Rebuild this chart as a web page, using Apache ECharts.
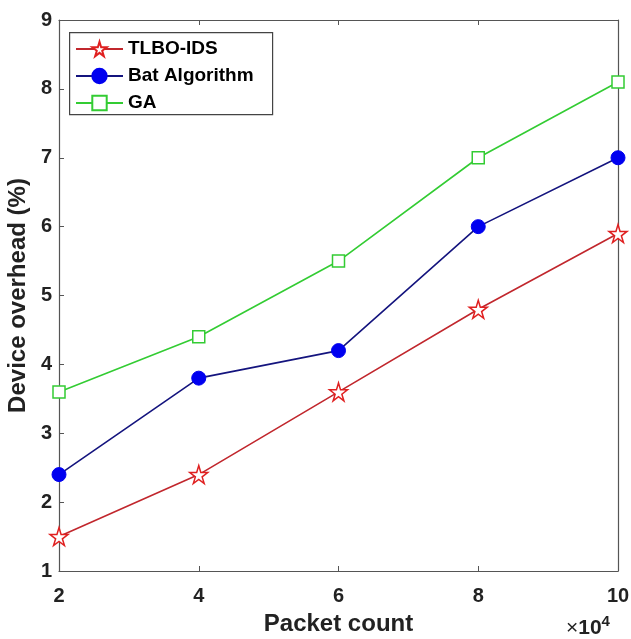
<!DOCTYPE html>
<html><head><meta charset="utf-8">
<script src="https://cdn.jsdelivr.net/npm/echarts@6/dist/echarts.min.js"></script>
<style>html,body{margin:0;padding:0;background:#fff}#c{width:631px;height:639px}</style>
</head><body><div id="c"></div>
<script>
const packets = [2, 4, 6, 8, 10];
const tlbo = [1.5, 2.4, 3.6, 4.8, 5.9];
const bat = [2.4, 3.8, 4.2, 6.0, 7.0];
const ga = [3.6, 4.4, 5.5, 7.0, 8.1];
const seriesNames = ['TLBO-IDS', 'Bat Algorithm', 'GA'];

const F = '"Liberation Sans", Arial, sans-serif';
const star = 'path://M50,0 L61,35 L98,35 L68,57 L79,91 L50,70 L21,91 L32,57 L2,35 L39,35 Z';
const pair = a => packets.map((x, i) => [x, a[i]]);

const chart = echarts.init(document.getElementById('c'));
chart.setOption({
  animation: false,
  backgroundColor: '#fff',
  grid: {left: 59, right: 13, top: 20, bottom: 68, containLabel: false, outerBoundsMode: 'none'},
  legend: {
    left: 69, top: 32, orient: 'vertical', itemGap: 7, itemWidth: 47, itemHeight: 18,
    padding: [7, 0, 0, 6], borderWidth: 0,
    textStyle: {fontFamily: F, fontWeight: 'bold', fontSize: 19, lineHeight: 20, color: '#000'},
    data: seriesNames
  },
  xAxis: [{
    type: 'value', min: 2, max: 10, interval: 2,
    axisLine: {lineStyle: {color: '#555', width: 1.2}},
    axisTick: {inside: true, length: 5, lineStyle: {color: '#555'}},
    axisLabel: {fontFamily: F, fontWeight: 'bold', fontSize: 20, color: '#222', margin: 15},
    splitLine: {show: false},
    name: 'Packet count', nameLocation: 'middle', nameGap: 41,
    nameTextStyle: {fontFamily: F, fontWeight: 'bold', fontSize: 24, color: '#222'}
  }, {
    type: 'value', position: 'top', min: 2, max: 10, interval: 2,
    axisLine: {show: true, lineStyle: {color: '#555', width: 1.2}},
    axisTick: {inside: true, length: 5, lineStyle: {color: '#555'}},
    axisLabel: {show: false}, splitLine: {show: false}
  }],
  yAxis: [{
    type: 'value', min: 1, max: 9, interval: 1,
    axisLine: {show: true, lineStyle: {color: '#555', width: 1.2}},
    axisTick: {inside: true, length: 5, lineStyle: {color: '#555'}},
    axisLabel: {fontFamily: F, fontWeight: 'bold', fontSize: 20, color: '#222', margin: 7},
    splitLine: {show: false},
    name: 'Device overhead (%)', nameLocation: 'middle', nameGap: 23,
    nameTextStyle: {fontFamily: F, fontWeight: 'bold', fontSize: 24, color: '#222'}
  }, {
    type: 'value', position: 'right', min: 1, max: 9, interval: 1,
    axisLine: {show: true, lineStyle: {color: '#555', width: 1.2}},
    axisTick: {show: false}, axisLabel: {show: false}, splitLine: {show: false}
  }],
  series: [{
    name: seriesNames[0], type: 'line', data: pair(tlbo),
    symbol: star, symbolSize: 18, showAllSymbol: true,
    lineStyle: {color: '#c1272d', width: 1.6},
    itemStyle: {color: '#fff', borderColor: '#e02020', borderWidth: 1.5}
  }, {
    name: seriesNames[1], type: 'line', data: pair(bat),
    symbol: 'circle', symbolSize: 14,
    lineStyle: {color: '#14147e', width: 1.6},
    itemStyle: {color: '#0000f0', borderColor: '#0000f0', borderWidth: 1}
  }, {
    name: seriesNames[2], type: 'line', data: pair(ga),
    symbol: 'rect', symbolSize: 12,
    lineStyle: {color: '#33cc33', width: 1.6},
    itemStyle: {color: '#fff', borderColor: '#33cc33', borderWidth: 1.5}
  }],
  graphic: [{
    type: 'rect', left: 69, top: 32, z: 0,
    shape: {width: 203, height: 82},
    style: {fill: '#fff', stroke: '#444', lineWidth: 1.2}
  }, {
    type: 'text', left: 566, top: 614,
    style: {
      text: '×{b|10}{s|4}', fontFamily: F, fontSize: 21, fill: '#222',
      rich: {
        b: {fontFamily: F, fontSize: 21, fontWeight: 'bold', fill: '#222'},
        s: {fontFamily: F, fontSize: 15, fontWeight: 'bold', verticalAlign: 'top', padding: [0, 0, 14, 0], fill: '#222'}
      }
    }
  }]
});
</script></body></html>
